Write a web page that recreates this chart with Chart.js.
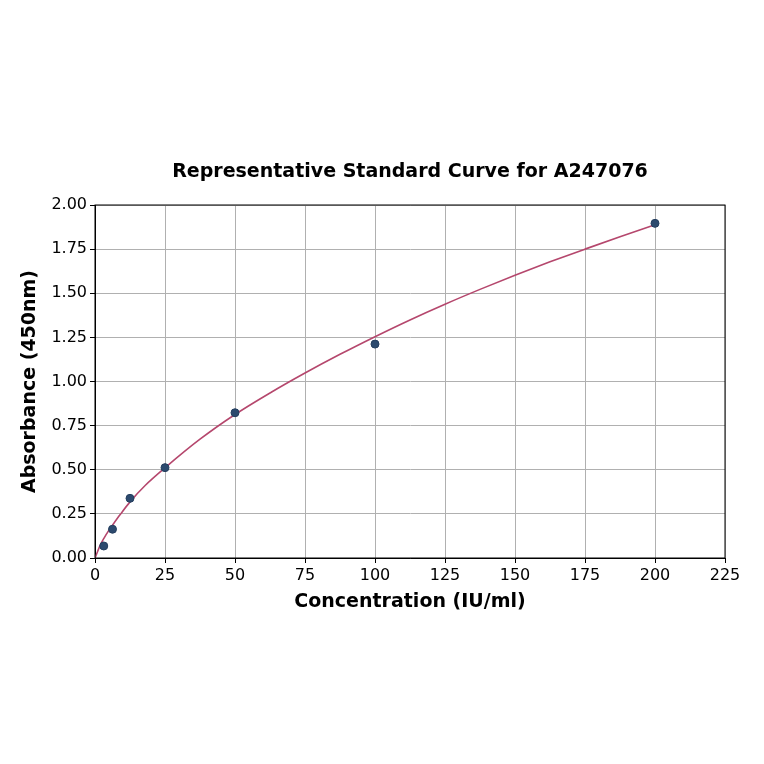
<!DOCTYPE html>
<html>
<head>
<meta charset="utf-8">
<script src="https://cdn.jsdelivr.net/npm/chart.js@4/dist/chart.umd.min.js"></script>
<style>
  html, body { margin: 0; padding: 0; background: #fff; }
  #wrap { width: 764px; height: 764px; }
</style>
</head>
<body>
<div id="wrap"><canvas id="curveChart" width="764" height="764"></canvas></div>
<script>
// Standard points (concentration, absorbance)
const stdConc = [3.125, 6.25, 12.5, 25, 50, 100, 200];
const stdAbs = [0.068, 0.163, 0.338, 0.512, 0.823, 1.212, 1.896];

// Fitted curve
const fitConc = [0, 1, 2, 3.125, 5, 6.25, 9, 12.5, 18, 25, 37.5, 50, 62.5, 75, 87.5, 100, 112.5, 125, 137.5, 150, 162.5, 175, 187.5, 200];
const fitAbs = [0.0, 0.04, 0.077, 0.11, 0.158, 0.186, 0.246, 0.318, 0.412, 0.511, 0.673, 0.813, 0.935, 1.048, 1.154, 1.254, 1.349, 1.438, 1.522, 1.602, 1.678, 1.75, 1.82, 1.888];

const xTicks = [0, 25, 50, 75, 100, 125, 150, 175, 200, 225];
const yTicks = [0, 0.25, 0.5, 0.75, 1.0, 1.25, 1.5, 1.75, 2.0];

const FONT = 'DejaVu Sans';

// Frame around the plot area (top and right sides too)
const framePlugin = {
    id: 'frame',
    afterDatasetsDraw(chart) {
        const a = chart.chartArea;
        const ctx = chart.ctx;
        ctx.save();
        ctx.strokeStyle = '#000';
        ctx.lineWidth = 1;
        ctx.strokeRect(a.left, a.top, a.right - a.left, a.bottom - a.top);
        ctx.restore();
    }
};

const ctx = document.getElementById('curveChart').getContext('2d');
new Chart(ctx, {
    type: 'scatter',
    data: {
        datasets: [{
            label: 'Fit',
            data: fitConc.map((x, i) => ({ x: x, y: fitAbs[i] })),
            showLine: true,
            borderColor: '#b5476d',
            borderWidth: 1.6,
            pointRadius: 0,
            cubicInterpolationMode: 'monotone',
            order: 2
        }, {
            label: 'Standards',
            data: stdConc.map((x, i) => ({ x: x, y: stdAbs[i] })),
            showLine: false,
            pointRadius: 4,
            backgroundColor: '#2c4a6e',
            borderColor: '#243e5e',
            borderWidth: 1,
            order: 1
        }]
    },
    options: {
        responsive: false,
        animation: false,
        layout: {
            padding: { left: 18.6, right: 39, top: 160.6, bottom: 150.6 }
        },
        plugins: {
            legend: { display: false },
            tooltip: { enabled: false },
            title: {
                display: true,
                fullSize: false,
                text: 'Representative Standard Curve for A247076',
                color: '#000',
                font: { family: FONT, size: 19, weight: 'bold' },
                padding: { top: 0, bottom: 21.6 }
            }
        },
        scales: {
            x: {
                type: 'linear',
                min: 0,
                max: 225,
                afterFit: s => { s.height = 55.4; },
                afterBuildTicks: s => { s.ticks = xTicks.map(v => ({ value: v })); },
                grid: {
                    color: '#b0b0b0',
                    tickColor: '#000',
                    tickLength: 5
                },
                border: { color: '#000' },
                ticks: {
                    color: '#000',
                    padding: 3,
                    maxRotation: 0,
                    font: { family: FONT, size: 16 }
                },
                title: {
                    display: true,
                    text: 'Concentration (IU/ml)',
                    color: '#000',
                    padding: 0,
                    font: { family: FONT, size: 19, weight: 'bold' }
                }
            },
            y: {
                type: 'linear',
                min: 0,
                max: 2,
                afterFit: s => { s.width = 76.4; },
                afterBuildTicks: s => { s.ticks = yTicks.map(v => ({ value: v })); },
                grid: {
                    color: '#b0b0b0',
                    tickColor: '#000',
                    tickLength: 5
                },
                border: { color: '#000' },
                ticks: {
                    color: '#000',
                    padding: 3,
                    font: { family: FONT, size: 16 },
                    callback: v => v.toFixed(2)
                },
                title: {
                    display: true,
                    text: 'Absorbance (450nm)',
                    color: '#000',
                    padding: 0,
                    font: { family: FONT, size: 19, weight: 'bold' }
                }
            }
        }
    },
    plugins: [framePlugin]
});
</script>
</body>
</html>
